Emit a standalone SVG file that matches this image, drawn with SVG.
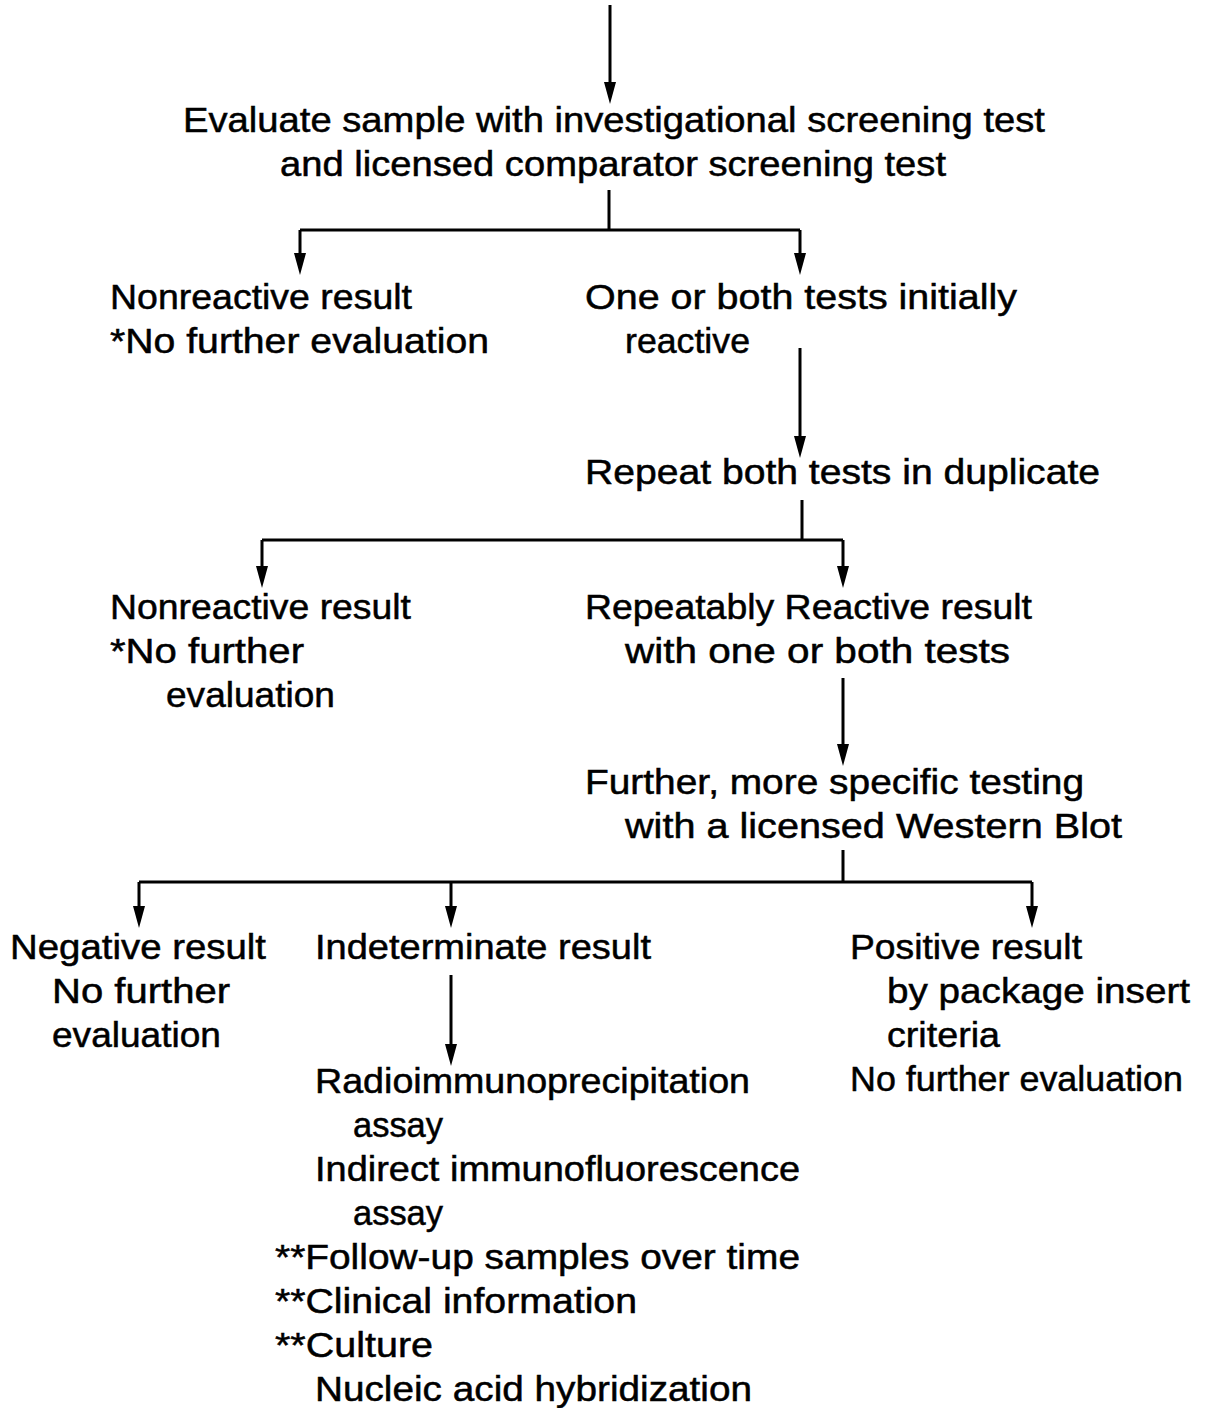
<svg xmlns="http://www.w3.org/2000/svg" width="1217" height="1408" viewBox="0 0 1217 1408">
<defs>
<style>
.c path { stroke:#000; stroke-width:3; fill:none; }
text { font-family:"Liberation Sans","Arial",sans-serif; font-size:35px; fill:#000; stroke:#000; stroke-width:0.5; }
</style>
</defs>
<rect width="1217" height="1408" fill="#fff"/>
<g class="c" id="connectors">
<path d="M610,5 V84"/>
<path d="M609,190 V230 M300,230 H800 M300,230 V255 M800,230 V255"/>
<path d="M800,348 V438"/>
<path d="M802,500 V540 M262,540 H843 M262,540 V568 M843,540 V568"/>
<path d="M843,678 V746"/>
<path d="M843,850 V882 M139,882 H1032 M139,882 V908 M451,882 V908 M1032,882 V908"/>
<path d="M451,975 V1046"/>
<g fill="#000" stroke="none">
<polygon points="604,82 616,82 610,104"/>
<polygon points="294,253 306,253 300,275"/>
<polygon points="794,253 806,253 800,275"/>
<polygon points="794,436 806,436 800,458"/>
<polygon points="256,566 268,566 262,588"/>
<polygon points="837,566 849,566 843,588"/>
<polygon points="837,744 849,744 843,766"/>
<polygon points="133,906 145,906 139,928"/>
<polygon points="445,906 457,906 451,928"/>
<polygon points="1026,906 1038,906 1032,928"/>
<polygon points="445,1044 457,1044 451,1066"/>
</g>
</g>
<g id="n1"><text x="183" y="132" textLength="862" lengthAdjust="spacingAndGlyphs">Evaluate sample with investigational screening test</text>
<text x="280" y="176" textLength="666" lengthAdjust="spacingAndGlyphs">and licensed comparator screening test</text></g>
<g id="n2"><text x="110" y="309" textLength="302" lengthAdjust="spacingAndGlyphs">Nonreactive result</text>
<text x="110" y="353" textLength="379" lengthAdjust="spacingAndGlyphs">*No further evaluation</text></g>
<g id="n3"><text x="585" y="309" textLength="432" lengthAdjust="spacingAndGlyphs">One or both tests initially</text>
<text x="625" y="353" textLength="125" lengthAdjust="spacingAndGlyphs">reactive</text></g>
<g id="n4"><text x="585" y="484" textLength="515" lengthAdjust="spacingAndGlyphs">Repeat both tests in duplicate</text></g>
<g id="n5"><text x="110" y="619" textLength="301" lengthAdjust="spacingAndGlyphs">Nonreactive result</text>
<text x="110" y="663" textLength="194" lengthAdjust="spacingAndGlyphs">*No further</text>
<text x="166" y="707" textLength="169" lengthAdjust="spacingAndGlyphs">evaluation</text></g>
<g id="n6"><text x="585" y="619" textLength="447" lengthAdjust="spacingAndGlyphs">Repeatably Reactive result</text>
<text x="625" y="663" textLength="385" lengthAdjust="spacingAndGlyphs">with one or both tests</text></g>
<g id="n7"><text x="585" y="794" textLength="499" lengthAdjust="spacingAndGlyphs">Further, more specific testing</text>
<text x="625" y="838" textLength="497" lengthAdjust="spacingAndGlyphs">with a licensed Western Blot</text></g>
<g id="n8"><text x="10" y="959" textLength="256" lengthAdjust="spacingAndGlyphs">Negative result</text>
<text x="52" y="1003" textLength="178" lengthAdjust="spacingAndGlyphs">No further</text>
<text x="52" y="1047" textLength="169" lengthAdjust="spacingAndGlyphs">evaluation</text></g>
<g id="n9"><text x="315" y="959" textLength="336" lengthAdjust="spacingAndGlyphs">Indeterminate result</text></g>
<g id="n10"><text x="850" y="959" textLength="232" lengthAdjust="spacingAndGlyphs">Positive result</text>
<text x="887" y="1003" textLength="303" lengthAdjust="spacingAndGlyphs">by package insert</text>
<text x="887" y="1047" textLength="113" lengthAdjust="spacingAndGlyphs">criteria</text>
<text x="850" y="1091" textLength="333" lengthAdjust="spacingAndGlyphs">No further evaluation</text></g>
<g id="n11"><text x="315" y="1093" textLength="435" lengthAdjust="spacingAndGlyphs">Radioimmunoprecipitation</text>
<text x="353" y="1137" textLength="90" lengthAdjust="spacingAndGlyphs">assay</text>
<text x="315" y="1181" textLength="485" lengthAdjust="spacingAndGlyphs">Indirect immunofluorescence</text>
<text x="353" y="1225" textLength="90" lengthAdjust="spacingAndGlyphs">assay</text>
<text x="275" y="1269" textLength="525" lengthAdjust="spacingAndGlyphs">**Follow-up samples over time</text>
<text x="275" y="1313" textLength="362" lengthAdjust="spacingAndGlyphs">**Clinical information</text>
<text x="275" y="1357" textLength="158" lengthAdjust="spacingAndGlyphs">**Culture</text>
<text x="315" y="1401" textLength="437" lengthAdjust="spacingAndGlyphs">Nucleic acid hybridization</text></g>
</svg>
